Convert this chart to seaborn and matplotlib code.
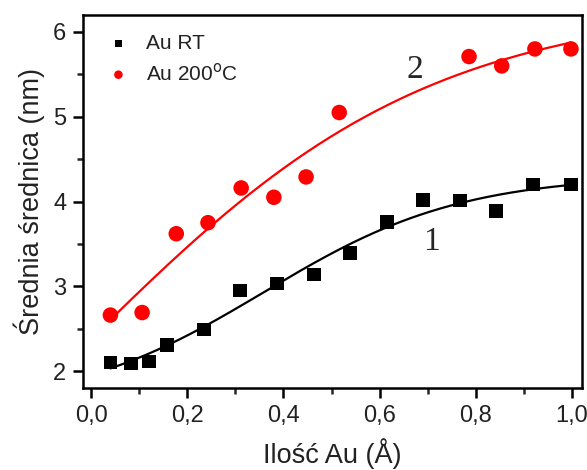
import numpy as np
import pandas as pd
import matplotlib
matplotlib.use("Agg")
import matplotlib.pyplot as plt
import seaborn as sns
from matplotlib.ticker import MultipleLocator, FuncFormatter

# Data
x_rt = [0.04, 0.083, 0.12, 0.158, 0.235, 0.31, 0.387, 0.464, 0.538,
        0.615, 0.69, 0.767, 0.842, 0.919, 0.998]
y_rt = [2.10, 2.09, 2.11, 2.31, 2.49, 2.95, 3.03, 3.14, 3.39,
        3.76, 4.02, 4.01, 3.89, 4.20, 4.20]

x_200 = [0.04, 0.106, 0.177, 0.243, 0.312, 0.380, 0.447, 0.516,
         0.786, 0.854, 0.923, 0.998]
y_200 = [2.66, 2.69, 3.62, 3.75, 4.16, 4.05, 4.29, 5.05,
         5.71, 5.60, 5.80, 5.80]

labels = ["Au RT", "Au 200$^{\\mathrm{o}}$C"]


def boltzmann_fit(x, y):
    # crude Boltzmann (sigmoid) fit: grid over x0, dx, least squares for A1, A2
    x = np.asarray(x)
    y = np.asarray(y)
    best = None
    for x0 in np.linspace(-0.5, 1.0, 151):
        for dx in np.linspace(0.05, 0.6, 111):
            f = 1 / (1 + np.exp((x - x0) / dx))
            A = np.column_stack([np.ones_like(f), f])
            coef, *_ = np.linalg.lstsq(A, y, rcond=None)
            sse = np.sum((A @ coef - y) ** 2)
            if best is None or sse < best[0]:
                best = (sse, x0, dx, coef)
    _, x0, dx, coef = best
    return lambda t: coef[0] + coef[1] / (1 + np.exp((t - x0) / dx))


sns.set_style("ticks")
plt.rcParams['font.family'] = ['Liberation Sans', 'DejaVu Sans']

fig = plt.figure(figsize=(5.87, 4.70), dpi=100)
ax = fig.add_axes([0.1414, 0.1745, 0.8501, 0.7935])

df_rt = pd.DataFrame({'x': x_rt, 'y': y_rt})
df_200 = pd.DataFrame({'x': x_200, 'y': y_200})

# fitted curves
for df, col in [(df_rt, 'black'), (df_200, 'red')]:
    fit = boltzmann_fit(df['x'], df['y'])
    xx = np.linspace(df['x'].min(), df['x'].max(), 200)
    sns.lineplot(x=xx, y=fit(xx), color=col, lw=1.6, ax=ax)

sns.scatterplot(data=df_rt, x='x', y='y', marker='s', s=95, color='black',
                edgecolor='none', ax=ax, label=labels[0], zorder=3)
sns.scatterplot(data=df_200, x='x', y='y', marker='o', s=125, color='red',
                edgecolor='none', ax=ax, label=labels[1], zorder=3)

ax.set_xlim(-0.017, 1.021)
ax.set_ylim(1.8, 6.2)
ax.xaxis.set_major_locator(MultipleLocator(0.2))
ax.xaxis.set_minor_locator(MultipleLocator(0.1))
ax.yaxis.set_major_locator(MultipleLocator(1))
ax.yaxis.set_minor_locator(MultipleLocator(0.5))
ax.xaxis.set_major_formatter(FuncFormatter(lambda v, p: f"{v:.1f}".replace('.', ',')))

for s in ax.spines.values():
    s.set_linewidth(1.8)
    s.set_color('black')
ax.tick_params(which='major', length=7, width=1.8, labelsize=17, colors='black',
               labelcolor='#222222', pad=5)
ax.tick_params(which='minor', length=4, width=1.8)

ax.set_xlabel("Ilość Au (Å)", fontsize=19.5, color='#222222', labelpad=8)
ax.set_ylabel("Średnia średnica (nm)", fontsize=19.5, color='#222222', labelpad=6)

ax.text(0.674, 5.56, "2", fontsize=24, family='Liberation Serif', ha='center', va='center')
ax.text(0.707, 3.53, "1", fontsize=24, family='Liberation Serif', ha='center', va='center')

leg = ax.legend(loc='upper left', frameon=False, fontsize=15, markerscale=0.55,
                handletextpad=0.5, borderaxespad=0.5, labelspacing=0.45,
                handlelength=1.6)
for t in leg.get_texts():
    t.set_color('#222222')

fig.savefig("out.png", dpi=100)
